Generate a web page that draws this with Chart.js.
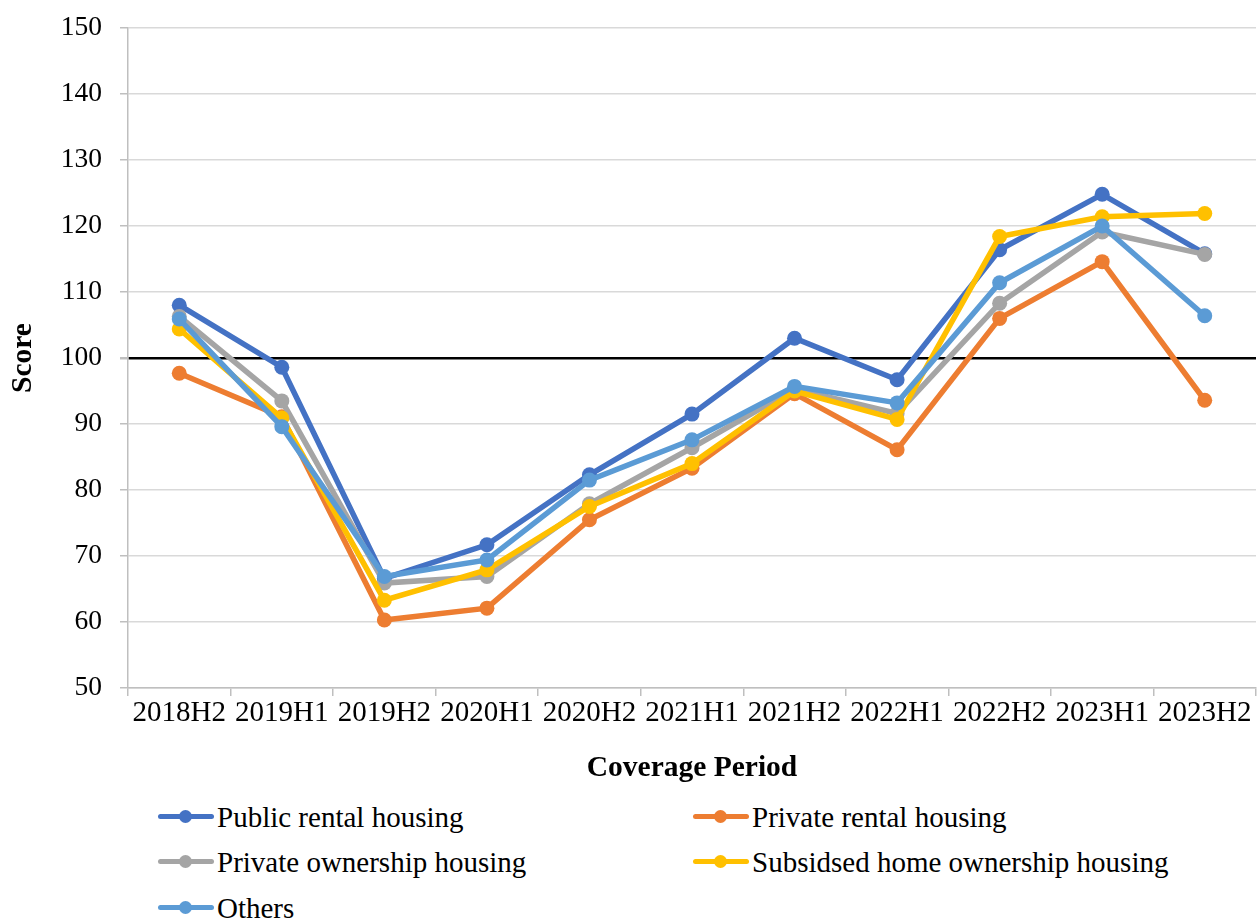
<!DOCTYPE html>
<html>
<head>
<meta charset="utf-8">
<script src="https://cdn.jsdelivr.net/npm/chart.js@4"></script>
<style>
  body { margin: 0; background: #fff; font-family: "Liberation Serif", "Times New Roman", serif; }
  #wrap { position: relative; width: 1258px; height: 921px; }
  #chart { position: absolute; left: 0; top: 0; }
  .item { position: absolute; font-size: 29px; color: #000; line-height: 30px; white-space: nowrap; }
  .sym { position: absolute; left: 0; top: 12px; width: 56px; height: 5px; border-radius: 3px; }
  .dot { position: absolute; left: 21px; top: -4px; width: 13px; height: 13px; border-radius: 50%; }
  .lbl { position: absolute; left: 59px; top: 0; }
</style>
</head>
<body>
<div id="wrap">
  <canvas id="chart" width="1258" height="790"></canvas>
  <div id="legend"></div>
</div>
<script>
const periods = ['2018H2', '2019H1', '2019H2', '2020H1', '2020H2', '2021H1', '2021H2', '2022H1', '2022H2', '2023H1', '2023H2'];

const seriesNames = ['Public rental housing', 'Private rental housing', 'Private ownership housing', 'Subsidsed home ownership housing', 'Others'];
const seriesColors = ['#4472C4', '#ED7D31', '#A5A5A5', '#FFC000', '#5B9BD5'];

const publicRental = [108.0, 98.6, 66.6, 71.7, 82.3, 91.5, 103.0, 96.7, 116.4, 124.8, 115.8];
const privateRental = [97.7, 91.1, 60.3, 62.1, 75.5, 83.3, 94.6, 86.1, 106.0, 114.6, 93.6];
const privateOwnership = [106.3, 93.5, 65.9, 66.9, 77.9, 86.4, 95.3, 91.6, 108.3, 119.1, 115.7];
const subsidised = [104.4, 90.9, 63.3, 67.9, 77.5, 84.0, 95.0, 90.7, 118.4, 121.4, 121.9];
const others = [105.9, 89.6, 66.9, 69.4, 81.5, 87.6, 95.7, 93.2, 111.4, 120.0, 106.4];

const seriesData = [publicRental, privateRental, privateOwnership, subsidised, others];

const FONT = '"Liberation Serif", "Times New Roman", serif';

const datasets = seriesData.map((d, i) => ({
  label: seriesNames[i],
  data: d,
  borderColor: seriesColors[i],
  backgroundColor: seriesColors[i],
  borderWidth: 5.5,
  pointRadius: 7.5,
  pointHoverRadius: 7.5,
  pointBorderWidth: 0,
  tension: 0,
  order: seriesData.length - i // later series drawn on top, like Excel
}));

var ctx = document.getElementById('chart').getContext('2d');
var chart = new Chart(ctx, {
  type: 'line',
  data: { labels: periods, datasets: datasets },
  options: {
    responsive: false,
    animation: false,
    layout: { autoPadding: false, padding: { top: 28, right: 2, left: 0, bottom: 0 } },
    plugins: { legend: { display: false }, tooltip: { enabled: false } },
    scales: {
      x: {
        offset: true,
        grid: { offset: true, drawOnChartArea: false, drawTicks: true, tickLength: 8, color: '#BFBFBF', lineWidth: 1.5 },
        border: { color: '#BFBFBF', width: 1.5 },
        ticks: { color: '#000', font: { family: FONT, size: 29 }, padding: 0, maxRotation: 0, autoSkip: false },
        title: { display: true, text: 'Coverage Period', color: '#000', font: { family: FONT, size: 29.5, weight: 'bold' }, padding: { top: 4, bottom: 4 } },
        afterFit: (scale) => { scale.height = 102; }
      },
      y: {
        min: 50,
        max: 150,
        ticks: { stepSize: 10, color: '#000', font: { family: FONT, size: 27.5 }, padding: 18 },
        grid: {
          color: (c) => c.tick && c.tick.value === 100 ? '#000' : '#D9D9D9',
          lineWidth: (c) => c.tick && c.tick.value === 100 ? 2.5 : 1.5,
          tickColor: '#BFBFBF',
          tickLength: 8
        },
        border: { color: '#BFBFBF', width: 1.5 },
        title: { display: true, text: 'Score', color: '#000', font: { family: FONT, size: 29.5, weight: 'bold' }, padding: { top: 6, bottom: 0 } },
        afterFit: (scale) => {
          scale.width = 128;
          // label padding would otherwise push the plot area down
          scale.paddingTop = 0;
          scale.paddingBottom = 0;
        }
      }
    }
  }
});

// legend in two columns, like the original
const legendPos = [
  { x: 158, y: 802 }, { x: 693, y: 802 },
  { x: 158, y: 847 }, { x: 693, y: 847 },
  { x: 158, y: 893 }
];
const legend = document.getElementById('legend');
seriesNames.forEach((name, i) => {
  const item = document.createElement('div');
  item.className = 'item';
  item.style.left = legendPos[i].x + 'px';
  item.style.top = legendPos[i].y + 'px';
  item.innerHTML = '<div class="sym" style="background:' + seriesColors[i] + '"><div class="dot" style="background:' + seriesColors[i] + '"></div></div><span class="lbl">' + name + '</span>';
  legend.appendChild(item);
});
</script>
</body>
</html>
